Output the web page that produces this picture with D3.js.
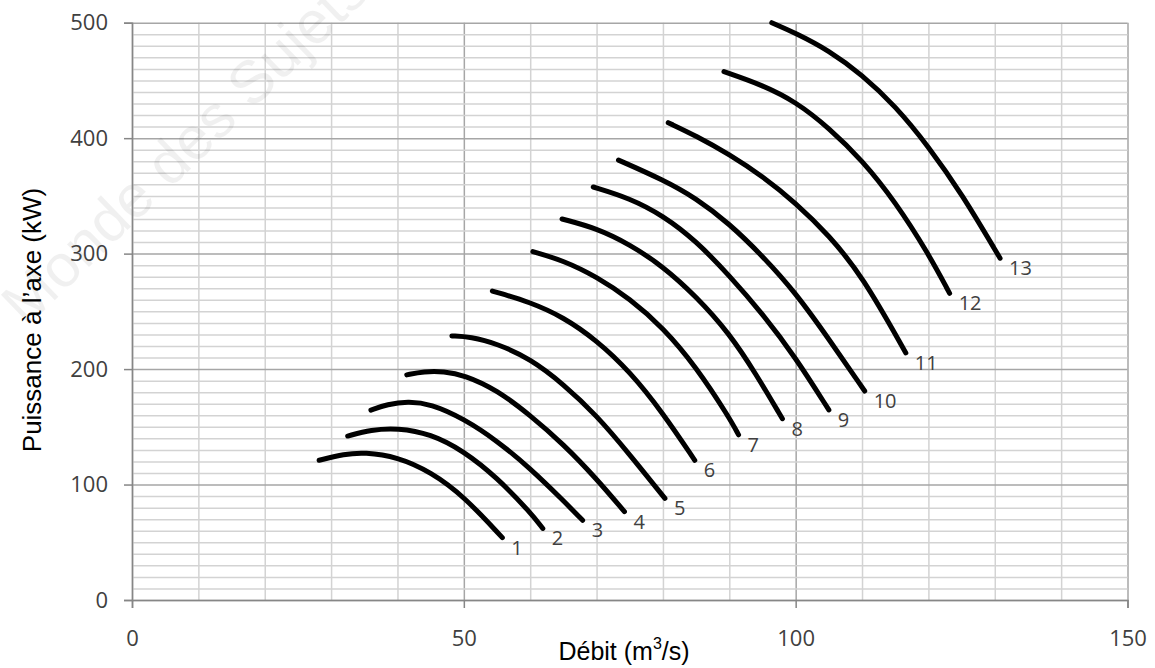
<!DOCTYPE html>
<html>
<head>
<meta charset="utf-8">
<script src="https://cdn.jsdelivr.net/npm/d3@7"></script>
<style>
  body { margin: 0; background: #fff; }
</style>
</head>
<body>
<div id="chart"></div>
<script>
// Débit (m3/s), Puissance (kW), one array per curve
var curve1 = [[28.2,121],[32,126.5],[35,128],[40,124],[45,111],[50,90],[55.8,54]];
var curve2 = [[32.5,142],[36,147.5],[40,149],[45,144],[50,129],[55,106],[60,76],[61.9,62]];
var curve3 = [[36,164.5],[38.5,169.5],[41.5,172],[45,170],[50,157],[55,138],[60,114],[65,86],[67.9,69]];
var curve4 = [[41.4,195],[44,198],[47,198],[50,195],[55,182],[60,160],[65,135],[70,105],[74.2,76.5]];
var curve5 = [[48.2,228.7],[51,228],[55,222],[60,209],[65,187],[70,160],[75,126],[80.3,88]];
var curve6 = [[54.3,267.6],[60,258],[65,245],[70,225],[75,198],[80,162],[84.8,121]];
var curve7 = [[60.4,301.7],[65,294],[70,280],[75,261],[80,236],[85,202],[90,158],[91.4,143]];
var curve8 = [[64.8,330],[70,322],[75,308],[80,289],[85,263],[90,231],[94,196],[98,157]];
var curve9 = [[69.5,357.7],[75,348],[80,333],[85,311],[90,281],[95,248],[100,210],[105,164.6]];
var curve10 = [[73.3,381],[80,364],[85,348],[90,326],[95,298],[100,266],[105,226],[110.4,181]];
var curve11 = [[80.8,413.4],[85,402],[90,386],[95,367],[100,344],[105,316],[110,281],[116.6,214]];
var curve12 = [[89.2,457.6],[95,446],[100,431.6],[105,409],[110,381],[115,345],[120,300],[123.2,265.6]];
var curve13 = [[96.4,500],[100,491],[105,476],[110,455],[115,428],[120,393],[125,352],[130.8,296]];

var curveLabels = ['1','2','3','4','5','6','7','8','9','10','11','12','13'];
var curves = [curve1, curve2, curve3, curve4, curve5, curve6, curve7, curve8, curve9, curve10, curve11, curve12, curve13];

var xTicks = [0, 50, 100, 150];
var yTicks = [0, 100, 200, 300, 400, 500];

(function () {
    var width = 1155, height = 668;
    var plotLeft = 132, plotRight = 1127.5, plotTop = 22.7, plotBottom = 600;

    var svg = d3.select('#chart').append('svg')
        .attr('width', width)
        .attr('height', height);

    var x = d3.scaleLinear().domain([0, 150]).range([plotLeft, plotRight]);
    var y = d3.scaleLinear().domain([0, 500]).range([plotBottom, plotTop]);

    // grid, every 10 units both ways, darker on the labelled values
    svg.append('g')
        .attr('transform', 'translate(0,' + plotBottom + ')')
        .call(d3.axisBottom(x).tickValues(d3.range(0, 151, 10)).tickSize(-(plotBottom - plotTop)).tickFormat(''))
        .call(function (g) { g.select('.domain').remove(); })
        .selectAll('line')
        .attr('stroke', function (d) { return d % 50 === 0 ? '#a6a6a6' : '#d3d3d3'; })
        .attr('stroke-width', 1.5);

    svg.append('g')
        .attr('transform', 'translate(' + plotLeft + ',0)')
        .call(d3.axisLeft(y).tickValues(d3.range(0, 501, 10)).tickSize(-(plotRight - plotLeft)).tickFormat(''))
        .call(function (g) { g.select('.domain').remove(); })
        .selectAll('line')
        .attr('stroke', function (d) { return d % 100 === 0 ? '#a6a6a6' : '#d3d3d3'; })
        .attr('stroke-width', 1.5);

    // watermark
    svg.append('text')
        .attr('transform', 'translate(26,328) rotate(-44)')
        .attr('font-family', 'Liberation Sans, Arial, sans-serif')
        .attr('font-size', 60)
        .attr('fill', '#000')
        .attr('fill-opacity', 0.06)
        .text('Monde des Sujets');

    // axes
    var xAxis = svg.append('g')
        .attr('transform', 'translate(0,' + plotBottom + ')')
        .call(d3.axisBottom(x).tickValues(xTicks).tickSize(8).tickPadding(22));
    var yAxis = svg.append('g')
        .attr('transform', 'translate(' + plotLeft + ',0)')
        .call(d3.axisLeft(y).tickValues(yTicks).tickSize(8).tickPadding(16));

    [xAxis, yAxis].forEach(function (g) {
        g.select('.domain').attr('stroke', '#868686').attr('stroke-width', 1.5);
        g.selectAll('.tick line').attr('stroke', '#868686').attr('stroke-width', 1.5);
        g.selectAll('.tick text')
            .attr('font-family', 'Open Sans, sans-serif')
            .attr('font-size', 22)
            .attr('fill', '#404040');
    });

    // curves, smoothed through the read points
    var line = d3.line()
        .x(function (d) { return x(d[0]); })
        .y(function (d) { return y(d[1]); })
        .curve(d3.curveBasis);

    svg.append('g').selectAll('path')
        .data(curves)
        .enter()
        .append('path')
        .attr('d', line)
        .attr('fill', 'none')
        .attr('stroke', '#000')
        .attr('stroke-width', 5)
        .attr('stroke-linecap', 'round');

    svg.append('g').selectAll('text')
        .data(curves)
        .enter()
        .append('text')
        .attr('x', function (d) { return x(d[d.length - 1][0]) + 9; })
        .attr('y', function (d) { return y(d[d.length - 1][1]) + 17; })
        .attr('font-family', 'Open Sans, sans-serif')
        .attr('font-size', 20)
        .attr('fill', '#404040')
        .text(function (d, i) { return curveLabels[i]; });

    // axis titles
    var xTitle = svg.append('text')
        .attr('x', 624)
        .attr('y', 660)
        .attr('text-anchor', 'middle')
        .attr('font-family', 'Liberation Sans, Arial, sans-serif')
        .attr('font-size', 25)
        .attr('fill', '#000');
    xTitle.append('tspan').text('Débit (m');
    xTitle.append('tspan').attr('font-size', 16).attr('dy', -11).text('3');
    xTitle.append('tspan').attr('dy', 11).text('/s)');

    svg.append('text')
        .attr('transform', 'translate(41,320) rotate(-90)')
        .attr('text-anchor', 'middle')
        .attr('font-family', 'Liberation Sans, Arial, sans-serif')
        .attr('font-size', 26)
        .attr('fill', '#000')
        .text('Puissance à l\u2019axe (kW)');
})();
</script>
</body>
</html>
